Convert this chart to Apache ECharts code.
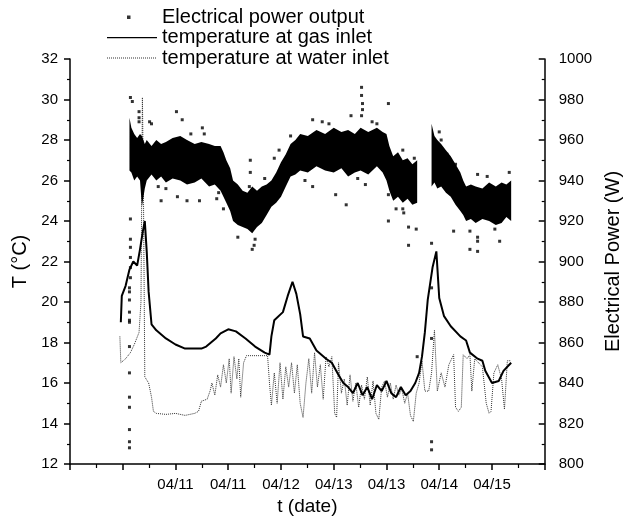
<!DOCTYPE html>
<html>
<head>
<meta charset="utf-8">
<script src="https://cdn.jsdelivr.net/npm/echarts@6/dist/echarts.min.js"></script>
<style>
  html, body { margin: 0; padding: 0; background: #fff; }
  #chart { width: 631px; height: 529px; }
</style>
</head>
<body>
<div id="chart"></div>
<script>
// x axis: time in plot units, one major tick = 55 units
const tickLabels = ['', '', '04/11', '04/11', '04/12', '04/13', '04/13', '04/14', '04/15', ''];

// temperature at gas inlet (solid)
const gasTime = [53, 54, 58, 62, 66, 70, 73, 76, 78, 80, 82, 85, 90, 100, 110, 120, 130, 137, 142, 147, 152, 157, 165, 173, 183, 193, 203, 208, 210, 213, 222, 227, 232, 236, 240, 243, 250, 257, 267, 273, 280, 285, 290, 295, 300, 305, 310, 315, 320, 325, 330, 335, 340, 345, 350, 355, 360, 364, 367, 370, 373, 378, 382, 385, 390, 397, 407, 413, 417, 425, 430, 433, 440, 447, 452, 460];
const gasTemp = [19.0, 20.3, 20.8, 21.6, 22.0, 21.8, 22.6, 23.5, 24.0, 22.5, 20.5, 18.9, 18.6, 18.2, 17.9, 17.7, 17.7, 17.7, 17.8, 18.0, 18.2, 18.45, 18.65, 18.55, 18.2, 17.8, 17.5, 17.4, 18.3, 19.1, 19.5, 20.3, 21.0, 20.4, 19.4, 18.3, 18.2, 17.6, 17.2, 17.0, 16.4, 16.0, 15.8, 15.5, 16.0, 15.4, 15.8, 15.2, 15.9, 15.6, 16.1, 15.5, 15.3, 15.8, 15.4, 15.6, 16.0, 16.5, 17.3, 18.5, 20.1, 21.7, 22.5, 20.2, 19.3, 18.8, 18.3, 18.1, 17.5, 17.2, 17.1, 16.6, 16.0, 16.1, 16.6, 17.0];

// temperature at water inlet (dotted)
const waterTime = [52, 53, 58, 63, 67, 72, 74, 75.5, 76.5, 78, 82, 85, 87, 90, 100, 110, 120, 130, 134, 137, 143, 146, 148, 151, 154, 157, 160, 163, 166, 168, 171, 174, 176, 178, 181, 184, 195, 206, 208, 210, 213, 216, 219, 222, 225, 228, 231, 234, 237, 240, 243, 246, 249, 252, 255, 258, 261, 264, 267, 270, 273, 276, 278, 280, 283, 286, 289, 292, 295, 298, 301, 304, 307, 310, 313, 316, 319, 322, 325, 328, 331, 334, 337, 340, 343, 346, 349, 352, 355, 358, 361, 364, 367, 370, 374, 377, 380, 383, 387, 391, 395, 400, 402, 405, 408, 410, 414, 417, 419, 422, 426, 430, 434, 437, 439, 442, 446, 450, 453, 456, 460];
const waterTemp = [18.3, 17.0, 17.2, 17.5, 17.9, 18.5, 20.0, 30.1, 26.0, 16.3, 16.0, 15.3, 14.6, 14.5, 14.45, 14.5, 14.4, 14.5, 14.6, 15.1, 15.2, 15.6, 16.0, 15.4, 16.4, 15.8, 16.9, 16.0, 17.2, 15.5, 17.3, 16.2, 17.2, 15.3, 17.0, 17.35, 17.35, 17.35, 16.0, 14.9, 16.5, 15.0, 17.0, 15.2, 16.8, 15.8, 17.0, 15.5, 16.9, 15.0, 14.3, 16.0, 17.2, 15.5, 17.5, 15.8, 16.9, 15.2, 17.3, 16.8, 17.3, 14.5, 14.3, 17.0, 15.5, 16.2, 14.9, 16.4, 15.1, 16.0, 14.8, 15.9, 15.2, 16.3, 14.9, 16.1, 14.5, 14.2, 15.8, 16.1, 15.3, 16.0, 15.2, 15.9, 15.4, 15.7, 15.0, 15.5, 14.4, 14.1, 15.5, 16.0, 17.1, 15.6, 15.6, 16.5, 18.6, 15.6, 16.5, 15.8, 16.9, 17.4, 14.8, 14.6, 14.8, 17.4, 17.2, 17.4, 15.6, 17.2, 17.0, 16.8, 15.0, 14.5, 14.6, 16.5, 16.9, 16.2, 14.7, 17.1, 17.1];

// electrical power: dense band (lower / upper edge), two runs
const bandTime1 = [62, 64, 67, 70, 73, 75, 78, 80, 85, 90, 95, 100, 107, 115, 122, 130, 137, 145, 151, 157, 160, 163, 167, 170, 175, 180, 185, 190, 195, 200, 205, 210, 215, 220, 225, 230, 235, 240, 248, 257, 266, 275, 283, 290, 297, 303, 311, 320, 326, 330, 333, 337, 342, 347, 352, 357, 362];
const bandLow1 = [945, 944, 940, 942, 940, 927, 936, 940, 943, 940, 942, 939, 941, 940, 938, 939, 941, 937, 938, 935, 932, 929, 925, 920, 918, 917, 916, 914, 917, 919, 923, 927, 929, 932, 937, 942, 943, 945, 944, 947, 945, 944, 946, 942, 944, 945, 943, 947, 944, 940, 935, 930, 932, 929, 931, 928, 929];
const bandHigh1 = [971, 966, 963, 961, 963, 962, 958, 960, 957, 960, 958, 959, 961, 962, 960, 958, 959, 958, 957, 957, 954, 950, 946, 940, 938, 935, 934, 937, 935, 937, 938, 940, 944, 949, 953, 958, 960, 963, 962, 965, 963, 966, 964, 965, 963, 966, 964, 966, 964, 963, 957, 952, 954, 950, 951, 948, 950];
const bandTime2 = [377, 380, 383, 387, 392, 397, 402, 407, 410, 413, 418, 423, 430, 437, 444, 450, 455, 460];
const bandLow2 = [937, 939, 936, 937, 934, 932, 928, 925, 923, 920, 921, 919, 921, 920, 918, 919, 922, 920];
const bandHigh2 = [968, 962, 960, 958, 955, 952, 948, 944, 940, 937, 938, 937, 936, 939, 937, 939, 938, 940];

// electrical power: scattered points outside the band
const outTime = [63, 65, 72, 72, 72, 83, 85, 111, 117, 138, 126, 95, 112, 122, 135, 92, 63, 188, 188, 187, 203, 213, 218, 190, 192, 193, 253, 263, 288, 277, 253, 155, 153, 304, 304, 305, 305, 304, 332, 293, 320, 308, 332, 332, 347, 347, 348, 359, 353, 361, 353, 377, 385, 387, 393, 402, 425, 435, 458, 417, 417, 425, 425, 425, 448, 443, 362, 377, 377, 377, 377, 62, 62, 62, 62, 62, 62, 62, 62, 62, 62, 62, 62, 62, 63, 63, 63, 63, 63, 100, 140, 160, 175, 230, 245, 270, 300, 315, 340, 400, 415];
const outPower = [981, 979, 974, 971, 969, 969, 968, 974, 970, 966, 963, 930, 932, 930, 930, 937, 921, 950, 944, 937, 941, 951, 955, 906, 908, 911, 970, 969, 928, 933, 937, 934, 931, 986, 982, 978, 975, 972, 978, 972, 968, 938, 933, 920, 955, 926, 924, 951, 917, 916, 908, 909, 964, 960, 953, 948, 943, 942, 944, 915, 906, 912, 910, 905, 910, 916, 853, 862, 887, 811, 807, 887, 885, 881, 875, 871, 870, 858, 845, 833, 828, 817, 811, 808, 911, 907, 902, 897, 892, 936, 963, 926, 912, 962, 940, 968, 941, 969, 926, 915, 933];

const bands = [
  { t: bandTime1, low: bandLow1, high: bandHigh1 },
  { t: bandTime2, low: bandLow2, high: bandHigh2 }
];

const font = 'Liberation Sans, Arial, sans-serif';
const chart = echarts.init(document.getElementById('chart'));

function renderBand(params, api) {
  const b = bands[params.dataIndex];
  const pts = [];
  for (let i = 0; i < b.t.length; i++) pts.push(api.coord([b.t[i], b.high[i]]));
  for (let i = b.t.length - 1; i >= 0; i--) pts.push(api.coord([b.t[i], b.low[i]]));
  return { type: 'polygon', shape: { points: pts }, style: { fill: '#000' } };
}

// legend icons (50 x 4 box)
const dotIcon = 'path://M0,0L0,0M50,4L50,4M20,0.5h3.5v3.5h-3.5z';
const solidIcon = 'path://M0,0L0,0M50,4L50,4M0,1.4h50v1.4h-50z';
let dottedIcon = 'path://M0,0L0,0M50,4L50,4';
for (let x = 0; x < 50; x += 2) dottedIcon += 'M' + x + ',1.6h1v1h-1z';

chart.setOption({
  backgroundColor: '#fff',
  animation: false,
  textStyle: { fontFamily: font, color: '#000' },
  grid: { left: 70, right: 67, top: 59, bottom: 65 },
  legend: {
    orient: 'vertical',
    left: 102,
    top: 2,
    itemWidth: 50,
    itemHeight: 4,
    itemGap: 0.5,
    textStyle: { fontFamily: font, fontSize: 20, lineHeight: 20, color: '#000' },
    data: [
      { name: 'Electrical power output', icon: dotIcon },
      { name: 'temperature at gas inlet', icon: solidIcon },
      { name: 'temperature at water inlet', icon: dottedIcon }
    ]
  },
  xAxis: {
    type: 'value',
    min: 0,
    max: 495,
    interval: 55,
    name: 't (date)',
    nameLocation: 'middle',
    nameGap: 33,
    nameTextStyle: { fontFamily: font, fontSize: 19, color: '#000' },
    axisLine: { lineStyle: { color: '#000', width: 1.5 } },
    axisTick: { length: 6, lineStyle: { color: '#000', width: 1.5 } },
    minorTick: { show: true, splitNumber: 2, length: 4, lineStyle: { color: '#000', width: 1.2 } },
    splitLine: { show: false },
    axisLabel: {
      fontFamily: font, fontSize: 15, color: '#000', margin: 13,
      formatter: v => tickLabels[Math.round(v / 55)] || ''
    }
  },
  yAxis: [
    {
      type: 'value',
      min: 12,
      max: 32,
      interval: 2,
      name: 'T (°C)',
      nameLocation: 'middle',
      nameGap: 38,
      nameTextStyle: { fontFamily: font, fontSize: 20, color: '#000' },
      axisLine: { show: true, lineStyle: { color: '#000', width: 1.5 } },
      axisTick: { length: 6, lineStyle: { color: '#000', width: 1.5 } },
      minorTick: { show: true, splitNumber: 2, length: 3, lineStyle: { color: '#000', width: 1.2 } },
      splitLine: { show: false },
      axisLabel: { fontFamily: font, fontSize: 15, color: '#000', margin: 12, formatter: v => String(v) }
    },
    {
      type: 'value',
      min: 800,
      max: 1000,
      interval: 20,
      position: 'right',
      name: 'Electrical Power (W)',
      nameLocation: 'middle',
      nameGap: 37,
      nameTextStyle: { fontFamily: font, fontSize: 20, color: '#000' },
      axisLine: { show: true, lineStyle: { color: '#000', width: 1.5 } },
      axisTick: { inside: true, length: 6, lineStyle: { color: '#000', width: 1.5 } },
      minorTick: { show: true, splitNumber: 2, length: 3, lineStyle: { color: '#000', width: 1.2 } },
      splitLine: { show: false },
      axisLabel: { fontFamily: font, fontSize: 15, color: '#000', margin: 14, formatter: v => String(v) }
    }
  ],
  series: [
    {
      name: 'temperature at water inlet',
      type: 'line',
      yAxisIndex: 0,
      symbol: 'none',
      data: waterTime.map((t, i) => [t, waterTemp[i]]),
      itemStyle: { color: '#333' },
      lineStyle: { color: '#333', width: 1, type: 'dotted' },
      z: 2
    },
    {
      name: 'temperature at gas inlet',
      type: 'line',
      yAxisIndex: 0,
      symbol: 'none',
      data: gasTime.map((t, i) => [t, gasTemp[i]]),
      itemStyle: { color: '#000' },
      lineStyle: { color: '#000', width: 2 },
      z: 3
    },
    {
      name: 'power band',
      type: 'custom',
      yAxisIndex: 1,
      renderItem: renderBand,
      data: [[bandTime1[0], bandLow1[0]], [bandTime2[0], bandLow2[0]]],
      z: 4
    },
    {
      name: 'Electrical power output',
      type: 'scatter',
      yAxisIndex: 1,
      symbol: 'rect',
      symbolSize: 3,
      itemStyle: { color: '#000' },
      data: outTime.map((t, i) => [t, outPower[i]]),
      z: 5
    }
  ]
});
</script>
</body>
</html>
